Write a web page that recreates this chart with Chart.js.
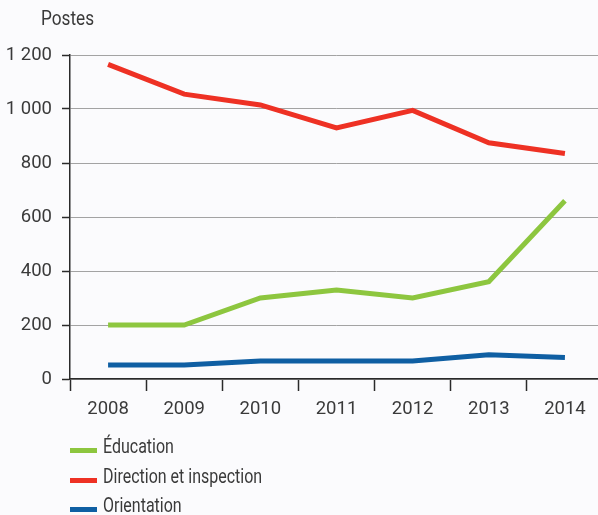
<!DOCTYPE html>
<html>
<head>
<meta charset="utf-8">
<script src="https://cdn.jsdelivr.net/npm/chart.js@4.4.1/dist/chart.umd.min.js"></script>
<style>
  html, body { margin: 0; padding: 0; background: #fbfbfd; }
  #wrap { position: relative; width: 598px; height: 515px; overflow: hidden; background: #fbfbfd; }
  #c { position: absolute; left: 0; top: 0; }
  .txt { font-family: 'Roboto', 'DejaVu Sans Condensed', sans-serif; color: #3a3a3a; font-size: 20px; line-height: 20px; white-space: nowrap; }
  .cond { display: inline-block; transform: scaleX(0.8); transform-origin: 0 50%; }
  #ytitle { position: absolute; left: 41px; top: 8px; }
  #ytitle .cond { transform: scaleX(0.86); }
  .row { position: absolute; left: 0; height: 20px; width: 400px; }
  .sw { position: absolute; left: 70px; top: 11.5px; width: 27px; height: 5px; }
  .lab { position: absolute; left: 103px; top: 0; }
</style>
</head>
<body>
<div id="wrap">
  <canvas id="c" width="603" height="515"></canvas>
  <div id="ytitle" class="txt"><span class="cond" id="ytitleText"></span></div>
  <div id="legend"></div>
</div>
<script>
const yTitle = 'Postes';
const years = ['2008', '2009', '2010', '2011', '2012', '2013', '2014'];
const education = [200, 200, 300, 330, 300, 360, 660];
const direction = [1165, 1055, 1015, 930, 995, 875, 835];
const orientation = [52, 52, 67, 67, 67, 90, 80];
const seriesNames = ['Éducation', 'Direction et inspection', 'Orientation'];
const seriesColors = ['#8dc63f', '#ee3124', '#0f5fa3'];
const yMin = 0, yMax = 1200, yStep = 200;

const FONT = "'Roboto', 'DejaVu Sans Condensed', sans-serif";
const TEXT = '#3a3a3a';
const AXIS = '#2a2a2a';
const GRID = '#a3a3a3';

document.getElementById('ytitleText').textContent = yTitle;

const seriesValues = [education, direction, orientation];
const datasets = seriesNames.map((n, i) => ({
  label: n,
  data: seriesValues[i],
  borderColor: seriesColors[i],
  backgroundColor: seriesColors[i],
  borderWidth: 5,
  pointRadius: 0,
  pointHoverRadius: 0,
  tension: 0,
  fill: false,
  borderCapStyle: 'butt',
  borderJoinStyle: 'miter'
}));

const chart = new Chart(document.getElementById('c'), {
  type: 'line',
  data: { labels: years, datasets },
  options: {
    responsive: false,
    animation: false,
    events: [],
    layout: { padding: { top: 55, right: 0, bottom: 96, left: 0 } },
    plugins: { legend: { display: false }, tooltip: { enabled: false }, title: { display: false } },
    scales: {
      x: {
        type: 'category',
        offset: true,
        afterFit: (s) => { s.height = 40; },
        border: { display: true, color: AXIS, width: 1.5 },
        grid: { display: true, drawOnChartArea: false, drawTicks: true, tickLength: 12, tickColor: AXIS, tickWidth: 1.5, offset: true },
        ticks: { color: TEXT, font: { family: FONT, size: 18.5 }, padding: 7, maxRotation: 0, autoSkip: false }
      },
      y: {
        min: yMin, max: yMax,
        afterFit: (s) => { s.width = 70; },
        border: { display: true, color: AXIS, width: 1.5 },
        grid: { color: GRID, lineWidth: 1, drawTicks: true, tickLength: 8, tickColor: AXIS, tickWidth: 1.5 },
        ticks: {
          stepSize: yStep, color: TEXT, padding: 10,
          font: { family: FONT, size: 18.5 },
          callback: (v) => String(v).replace(/\B(?=(\d{3})+(?!\d))/g, ' ')
        }
      }
    }
  }
});

// HTML legend built from the chart's datasets
const leg = document.getElementById('legend');
const rowTops = [436, 466, 495];
chart.data.datasets.forEach((ds, i) => {
  const row = document.createElement('div');
  row.className = 'row txt';
  row.style.top = rowTops[i] + 'px';
  const sw = document.createElement('span');
  sw.className = 'sw';
  sw.style.background = ds.borderColor;
  const lab = document.createElement('span');
  lab.className = 'lab';
  const inner = document.createElement('span');
  inner.className = 'cond';
  inner.textContent = ds.label;
  lab.appendChild(inner);
  row.appendChild(sw); row.appendChild(lab);
  leg.appendChild(row);
});
</script>
</body>
</html>
